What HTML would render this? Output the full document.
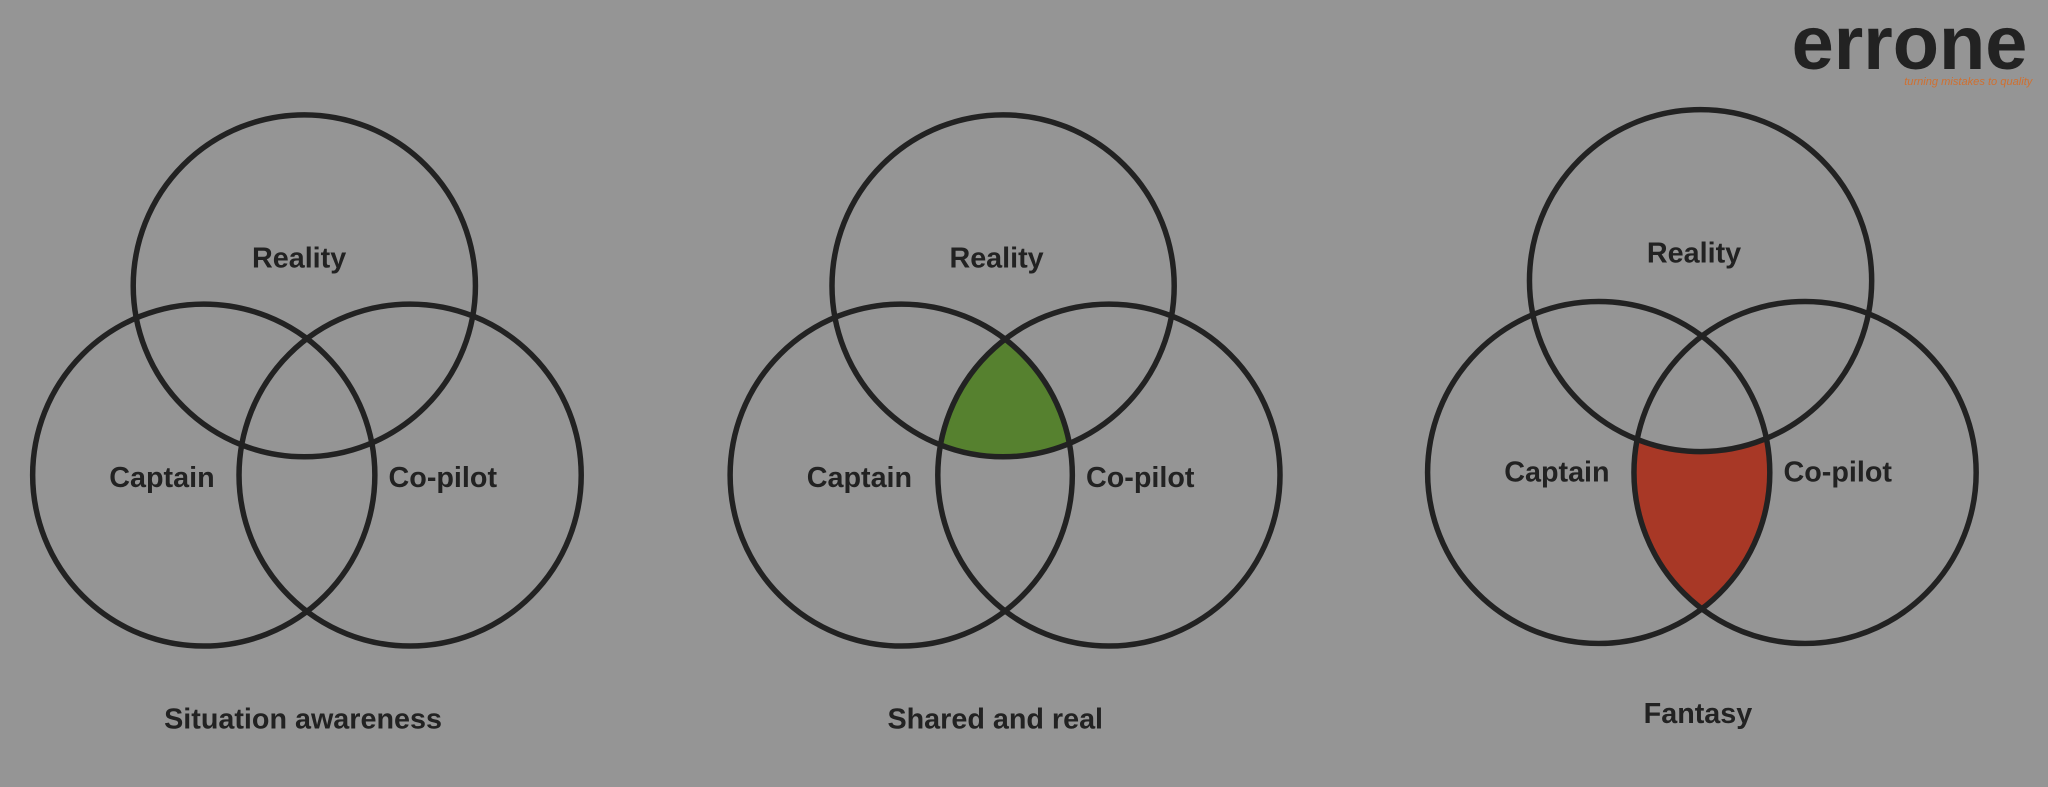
<!DOCTYPE html>
<html><head><meta charset="utf-8"><style>
html,body{margin:0;padding:0;background:#959595;}
svg{display:block;}
</style></head><body>
<svg width="2048" height="787" viewBox="0 0 1568 603" preserveAspectRatio="none" xmlns="http://www.w3.org/2000/svg">
<rect width="1568" height="603" fill="#959595"/>
<defs>
<clipPath id="g1"><circle cx="768" cy="219" r="131"/></clipPath>
<clipPath id="g2"><circle cx="690" cy="364" r="131"/></clipPath>
<clipPath id="r1"><circle cx="1224" cy="362" r="131"/></clipPath>
</defs>
<g clip-path="url(#g1)"><g clip-path="url(#g2)"><circle cx="849" cy="364" r="131" fill="#56812f"/></g></g>
<g clip-path="url(#r1)"><circle cx="1382" cy="362" r="131" fill="#a83826"/></g>
<circle cx="1302" cy="215" r="131" fill="#959595"/>
<g fill="none" stroke="#222" stroke-width="4.2">
<circle cx="233" cy="219" r="131"/><circle cx="156" cy="364" r="131"/><circle cx="314" cy="364" r="131"/>
<circle cx="768" cy="219" r="131"/><circle cx="690" cy="364" r="131"/><circle cx="849" cy="364" r="131"/>
<circle cx="1302" cy="215" r="131"/><circle cx="1224" cy="362" r="131"/><circle cx="1382" cy="362" r="131"/>
</g>
<g font-family="Liberation Sans, sans-serif" font-weight="bold" fill="#222" font-size="22" text-anchor="middle">
<text x="229" y="205">Reality</text><text x="124" y="373">Captain</text><text x="339" y="373">Co-pilot</text>
<text x="763" y="205">Reality</text><text x="658" y="373">Captain</text><text x="873" y="373">Co-pilot</text>
<text x="1297" y="201">Reality</text><text x="1192" y="369">Captain</text><text x="1407" y="369">Co-pilot</text>
<text x="232" y="558" font-size="22">Situation awareness</text>
<text x="762" y="558" font-size="22">Shared and real</text>
<text x="1300" y="554" font-size="22">Fantasy</text>
</g>
<text x="1462" y="53" text-anchor="middle" font-family="Liberation Sans, sans-serif" font-weight="bold" font-size="58" fill="#222">errone</text>
<text x="1556" y="65" text-anchor="end" font-family="Liberation Sans, sans-serif" font-style="italic" font-size="8.5" fill="#d07030">turning mistakes to quality</text>
</svg>
</body></html>
